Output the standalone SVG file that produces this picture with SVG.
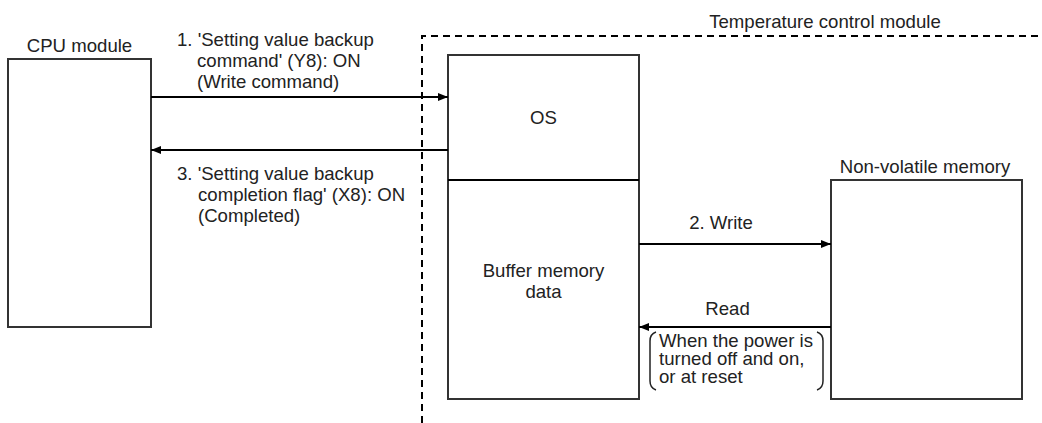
<svg xmlns="http://www.w3.org/2000/svg" width="1042" height="423" viewBox="0 0 1042 423">
<style>
text{font-family:"Liberation Sans",Arial,sans-serif;font-size:18.6px;fill:#222}
.box{fill:#fff;stroke:#333;stroke-width:2}
.arr{stroke:#000;stroke-width:2;fill:none;marker-end:url(#ah)}
.dash{stroke:#000;stroke-width:2;fill:none;stroke-dasharray:7 5}
.br{stroke:#222;stroke-width:1.5;fill:none}
</style>
<defs>
<marker id="ah" viewBox="0 0 10 8" refX="10" refY="4" markerWidth="10" markerHeight="8" markerUnits="userSpaceOnUse" orient="auto">
<path d="M0,0 L10,4 L0,8 Z" fill="#000"/>
</marker>
</defs>
<rect width="1042" height="423" fill="#fff"/>
<g id="container">
<path class="dash" d="M422,423 L422,36 L1042,36"/>
<text x="825" y="28" text-anchor="middle">Temperature control module</text>
</g>
<g id="cpu">
<rect class="box" x="8" y="59" width="143" height="268"/>
<text x="79.5" y="52" text-anchor="middle">CPU module</text>
</g>
<g id="os">
<rect class="box" x="448" y="55" width="191" height="344"/>
<line x1="448" y1="180" x2="639" y2="180" stroke="#000" stroke-width="2"/>
<text x="543.5" y="124" text-anchor="middle">OS</text>
<text x="543.5" y="277" text-anchor="middle">Buffer memory</text>
<text x="543.5" y="298" text-anchor="middle">data</text>
</g>
<g id="nvm">
<rect class="box" x="831" y="180" width="191" height="219"/>
<text x="925" y="173" text-anchor="middle">Non-volatile memory</text>
</g>
<g id="connectors">
<line class="arr" x1="151" y1="97" x2="448" y2="97"/>
<line class="arr" x1="448" y1="150" x2="151" y2="150"/>
<line class="arr" x1="639" y1="244" x2="831" y2="244"/>
<line class="arr" x1="831" y1="327" x2="639" y2="327"/>
<text x="177" y="46">1. 'Setting value backup</text>
<text x="197" y="67">command' (Y8): ON</text>
<text x="197" y="88">(Write command)</text>
<text x="177" y="180">3. 'Setting value backup</text>
<text x="198" y="201">completion flag' (X8): ON</text>
<text x="198" y="222">(Completed)</text>
<text x="721" y="229" text-anchor="middle">2. Write</text>
<text x="727.5" y="315" text-anchor="middle">Read</text>
<path class="br" d="M656,332 Q650,334 650,341 L650,381 Q650,388 656,390"/>
<path class="br" d="M817,332 Q823,334 823,341 L823,381 Q823,388 817,390"/>
<text x="659" y="347">When the power is</text>
<text x="659" y="365">turned off and on,</text>
<text x="659" y="383">or at reset</text>
</g>
</svg>
